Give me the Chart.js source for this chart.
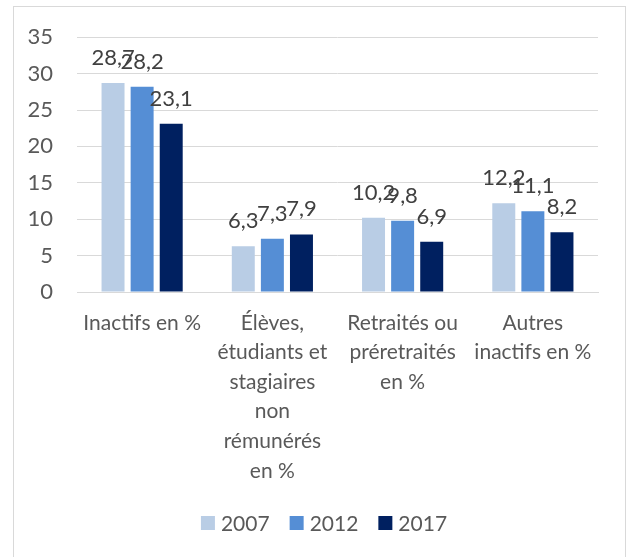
<!DOCTYPE html>
<html>
<head>
<meta charset="utf-8">
<script src="https://cdn.jsdelivr.net/npm/chart.js@4.4.1/dist/chart.umd.min.js"></script>
<style>
  html, body { margin: 0; padding: 0; background: #fff; }
  #wrap { position: relative; width: 630px; height: 557px; }
  #frame { position: absolute; left: 13px; top: 6px; width: 613px; height: 560px; border: 1px solid #d9d9d9; box-sizing: border-box; }
  canvas { position: absolute; left: 0; top: 0; }
</style>
</head>
<body>
<div id="wrap">
  <div id="frame"></div>
  <canvas id="chart" width="630" height="557"></canvas>
</div>
<script>
// categories (multi-line tick labels)
const categories = [
    ['Inactifs en %'],
    ['Élèves,', 'étudiants et', 'stagiaires', 'non', 'rémunérés', 'en %'],
    ['Retraités ou', 'préretraités', 'en %'],
    ['Autres', 'inactifs en %']
];
const years = ['2007', '2012', '2017'];
const values2007 = [28.7, 6.3, 10.2, 12.2];
const values2012 = [28.2, 7.3, 9.8, 11.1];
const values2017 = [23.1, 7.9, 6.9, 8.2];
const yTicks = [0, 5, 10, 15, 20, 25, 30, 35];

const colors = ['#b9cde5', '#558ed5', '#002060'];
const FONT = 'Lato, "Open Sans", sans-serif';

// draw the value above each bar, french decimal comma
const barLabels = {
    id: 'barLabels',
    afterDatasetsDraw(chart) {
        const ctx = chart.ctx;
        ctx.save();
        ctx.font = '22px ' + FONT;
        ctx.fillStyle = '#404040';
        ctx.textAlign = 'center';
        ctx.textBaseline = 'alphabetic';
        chart.data.datasets.forEach((ds, i) => {
            const meta = chart.getDatasetMeta(i);
            meta.data.forEach((bar, j) => {
                const txt = String(ds.data[j]).replace('.', ',');
                ctx.fillText(txt, bar.x, bar.y - 18);
            });
        });
        ctx.restore();
    }
};

// small legend under the axis, excel style (box close to the text)
const bottomLegend = {
    id: 'bottomLegend',
    afterDraw(chart) {
        const ctx = chart.ctx;
        const box = 14, gap = 6, spacing = 20;
        ctx.save();
        ctx.font = '21px ' + FONT;
        ctx.textBaseline = 'middle';
        ctx.textAlign = 'left';
        const items = chart.data.datasets.map(ds => ({
            text: ds.label,
            color: ds.backgroundColor,
            w: ctx.measureText(ds.label).width
        }));
        let total = 0;
        items.forEach((it, i) => { total += box + gap + it.w + (i > 0 ? spacing : 0); });
        let x = 324 - total / 2;
        const y = 523;
        items.forEach(it => {
            ctx.fillStyle = it.color;
            ctx.fillRect(x, y - 7, box, box);
            ctx.fillStyle = '#595959';
            ctx.fillText(it.text, x + box + gap, y + 1);
            x += box + gap + it.w + spacing;
        });
        ctx.restore();
    }
};

const ctx = document.getElementById('chart').getContext('2d');
const chart = new Chart(ctx, {
    type: 'bar',
    data: {
        labels: categories,
        datasets: [
            { label: years[0], data: values2007, backgroundColor: colors[0] },
            { label: years[1], data: values2012, backgroundColor: colors[1] },
            { label: years[2], data: values2017, backgroundColor: colors[2] }
        ]
    },
    options: {
        responsive: false,
        animation: false,
        events: [],
        datasets: {
            bar: { categoryPercentage: 0.67, barPercentage: 0.79 }
        },
        layout: {
            padding: { left: 20, right: 32, top: 35, bottom: 65 }
        },
        plugins: {
            tooltip: { enabled: false },
            legend: { display: false }
        },
        scales: {
            x: {
                grid: { display: false, drawTicks: false },
                border: { display: true, color: '#d9d9d9', width: 1 },
                ticks: {
                    color: '#595959',
                    font: { family: FONT, size: 21, lineHeight: '29.6px' },
                    padding: 16,
                    maxRotation: 0,
                    autoSkip: false
                },
                afterFit(scale) { scale.height = 200; }
            },
            y: {
                min: 0,
                max: 35,
                afterBuildTicks(scale) { scale.ticks = yTicks.map(v => ({ value: v })); },
                grid: { color: '#d9d9d9', lineWidth: 1, drawTicks: false },
                border: { display: false },
                ticks: {
                    color: '#595959',
                    font: { family: FONT, size: 22 },
                    padding: 24
                },
                afterFit(scale) { scale.width = 57; }
            }
        }
    },
    plugins: [barLabels, bottomLegend]
});
</script>
</body>
</html>
